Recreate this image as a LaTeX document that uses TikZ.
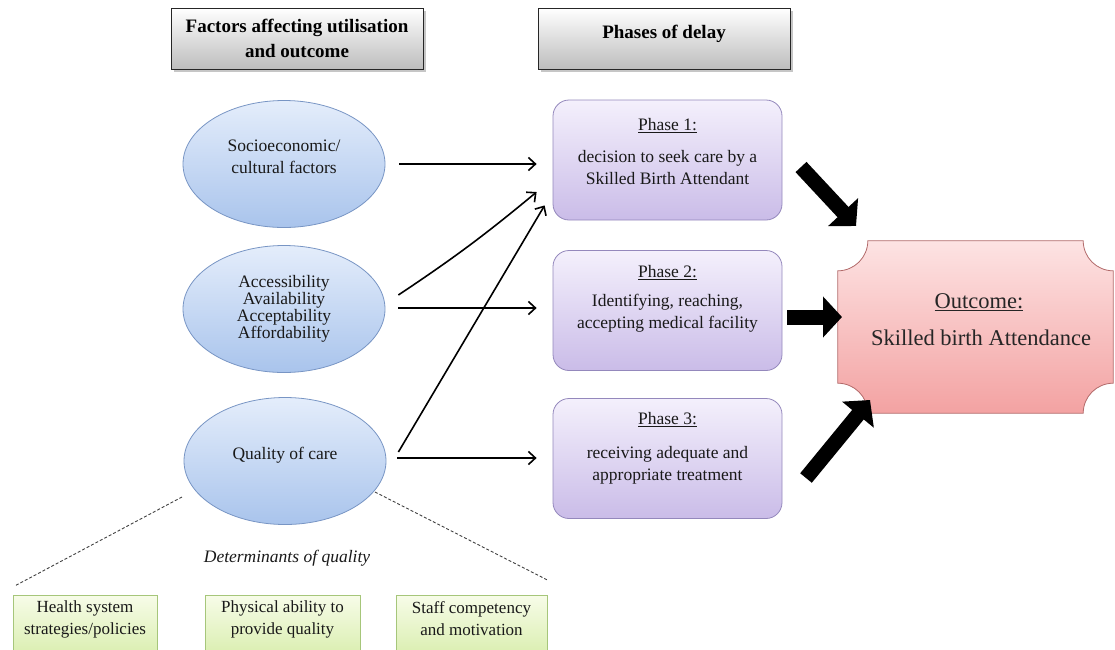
\documentclass[tikz,border=0pt]{standalone}
\usepackage{fontspec}
\setmainfont{Liberation Serif}
\usetikzlibrary{arrows.meta,shapes.geometric,shadows,calc}
\definecolor{ellT}{HTML}{E4EDFB}
\definecolor{ellBot}{HTML}{A9C4EC}
\definecolor{ellD}{HTML}{7895C4}
\definecolor{phT}{HTML}{F4F0FC}
\definecolor{phBot}{HTML}{CABCE8}
\definecolor{phD}{HTML}{9488BC}
\definecolor{ouT}{HTML}{FDE3E3}
\definecolor{ouBot}{HTML}{F3A2A2}
\definecolor{ouD}{HTML}{B26A6A}
\definecolor{grT}{HTML}{F7FCE8}
\definecolor{grBot}{HTML}{D5ECA6}
\definecolor{grD}{HTML}{A6C67A}
\begin{document}
\begin{tikzpicture}[x=1pt,y=1pt,
  hdr/.style={draw=black!85, line width=0.9pt, top color=white, bottom color=black!26,
    minimum width=252pt, minimum height=61pt, inner sep=0pt,
    drop shadow={shadow xshift=2.5pt, shadow yshift=-2.5pt, opacity=0.45}},
  hdrtext/.style={font=\fontsize{19}{25}\selectfont\bfseries, align=center, text=black},
  ell/.style={ellipse, draw=ellD, line width=0.8pt, top color=ellT, bottom color=ellBot,
    minimum width=202pt, minimum height=127pt, inner sep=0pt},
  etext/.style={font=\fontsize{17.5}{22}\selectfont, align=center, text=black!90},
  phase/.style={rounded corners=16pt, draw=phD, line width=0.8pt, top color=phT, bottom color=phBot,
    minimum width=229pt, minimum height=120pt, inner sep=0pt},
  ptext/.style={font=\fontsize{17.5}{22}\selectfont, align=center, text=black!90},
  outline/.style={draw=ouD, line width=0.8pt, top color=ouT, bottom color=ouBot},
  otext/.style={font=\fontsize{22.5}{26}\selectfont, text=black!85},
  green/.style={draw=grD, line width=0.8pt, top color=grT, bottom color=grBot,
    minimum height=70pt, inner sep=0pt, anchor=north},
  gtext/.style={font=\fontsize{17}{22}\selectfont, align=center, text=black!90},
  thin/.style={line width=1.6pt, -{Straight Barb[length=7pt,width=13pt]}},
  thick/.style={line width=15pt, -{Triangle[length=19pt,width=40pt]}},
  dashline/.style={dash pattern=on 3pt off 2pt, line width=0.9pt, black!75}
]
\useasboundingbox (0,0) rectangle (1115,-649);

% headers
\node[hdr, hdrtext] (h1) at (297,-38.5) {Factors affecting utilisation\\and outcome};
\node[hdr] (h2) at (664,-38.5) {};
\node[hdrtext] (h2t) at ([yshift=5pt]h2.center) {Phases of delay};

% ellipses
\node[ell] (soc) at (284,-164) {};
\node[etext] (soct) at (284,-157) {Socioeconomic/\\cultural factors};
\node[ell] (acc) at (284,-309) {};
\node[etext, font=\fontsize{17.5}{16.8}\selectfont] (acct) at (284,-309) {Accessibility\\Availability\\Acceptability\\Affordability};
\node[ell] (qual) at (285,-461) {};
\node[etext] (qualt) at (285,-455) {Quality of care};

% phases
\node[phase] (p1) at (667.5,-160) {};
\node[ptext] (p1h) at ([yshift=-26pt]p1.north) {\underline{Phase 1:}};
\node[ptext] (p1b) at ([yshift=-68pt]p1.north) {decision to seek care by a\\Skilled Birth Attendant};
\node[phase] (p2) at (667.5,-310.5) {};
\node[ptext] (p2h) at ([yshift=-22pt]p2.north) {\underline{Phase 2:}};
\node[ptext] (p2b) at ([yshift=-63pt]p2.north) {Identifying, reaching,\\accepting medical facility};
\node[phase] (p3) at (667.5,-458.5) {};
\node[ptext] (p3h) at ([yshift=-21pt]p3.north) {\underline{Phase 3:}};
\node[ptext] (p3b) at ([yshift=-67pt]p3.north) {receiving adequate and\\appropriate treatment};

% outcome
\node[minimum width=275pt, minimum height=172pt, inner sep=0pt] (out) at (975.5,-327) {};
\path[outline] ($(out.north west)+(30,0)$) -- ($(out.north east)+(-30,0)$)
  arc[start angle=180, end angle=270, radius=30pt]
  -- ($(out.south east)+(0,30)$) arc[start angle=90, end angle=180, radius=30pt]
  -- ($(out.south west)+(30,0)$) arc[start angle=0, end angle=90, radius=30pt]
  -- ($(out.north west)+(0,-30)$) arc[start angle=270, end angle=360, radius=30pt]
  -- cycle;
\node[otext] (outh) at (979,-302) {\underline{Outcome:}};
\node[otext] (outb) at (981,-338) {Skilled birth Attendance};

% thin arrows
\draw[thin] ($(soc.east)+(14,0)$) -- ($(p1.west |- soc.east)+(-16,0)$);
\draw[thin] ($(acc.east)+(13,14)$) to[bend right=3] ($(p1.west)+(-16,-32)$);
\draw[thin] ($(acc.east)+(13,1)$) -- ($(p2.west |- acc.east)+(-16,1)$);
\draw[thin] ($(qual.east)+(12,9)$) -- ($(p1.south west)+(-8,15)$);
\draw[thin] ($(qual.east)+(11,3)$) -- ($(p3.west |- qual.east)+(-16,3)$);

% thick arrows
\coordinate (t1s) at (801,-167);
\coordinate (t1e) at (856,-226);
\coordinate (t2s) at (787,-317);
\coordinate (t2e) at (842,-317);
\coordinate (t3s) at (806,-478);
\coordinate (t3e) at (870,-400);
\draw[thick] (t1s) -- (t1e);
\draw[thick] (t2s) -- (t2e);
\draw[thick] (t3s) -- (t3e);

% determinants
\node[green, minimum width=144pt] (g1) at (85,-595) {};
\node[green, minimum width=155pt] (g2) at (282.5,-595) {};
\node[green, minimum width=151pt] (g3) at (471.5,-595) {};
\node[gtext] (g1t) at (85,-619) {Health system\\strategies/policies};
\node[gtext] (g2t) at (282.5,-619) {Physical ability to\\provide quality};
\node[gtext] (g3t) at (471.5,-619) {Staff competency\\and motivation};

\draw[dashline] ($(qual.center)+(-103,-36)$) -- ($(g1.north west)+(2,9)$);
\draw[dashline] ($(qual.center)+(90,-31)$) -- ($(g3.north east)+(0,15)$);
\node[font=\fontsize{17.5}{20}\selectfont\itshape, text=black!90] (det) at (287,-558) {Determinants of quality};
\end{tikzpicture}
\end{document}
